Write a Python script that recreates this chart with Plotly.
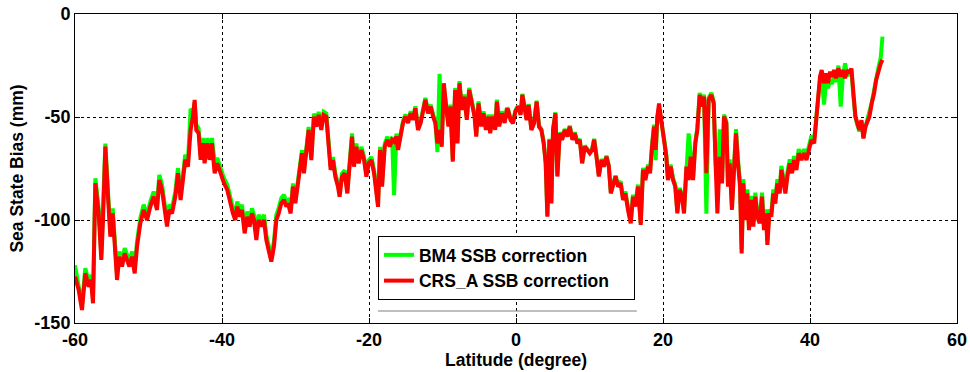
import plotly.graph_objects as go

# Along-track latitude (degrees)
lat = [
    -60.0, -59.5, -59.05, -58.6, -58.14, -57.82, -57.55, -57.23, -56.78, -56.42,
    -56.19, -55.87, -55.51, -55.19, -54.87, -54.6, -54.28, -53.97, -53.6, -53.24,
    -52.92, -52.6, -52.24, -51.88, -51.56, -51.11, -50.66, -50.2, -49.75, -49.3,
    -48.84, -48.53, -48.16, -47.8, -47.48, -47.17, -46.8, -46.35,
    -45.99, -45.63, -45.31, -45.0, -44.63, -44.27, -43.95, -43.72, -43.5, -43.18,
    -42.91, -42.6, -42.37, -42.0, -41.69, -41.37, -41.0, -40.64, -40.19, -39.73,
    -39.28, -38.83, -38.51, -38.19, -37.92, -37.6, -37.28, -36.92, -36.56, -36.24,
    -35.92, -35.65, -35.33, -35.02, -34.65, -34.29, -33.97, -33.66, -33.29, -32.93,
    -32.61, -32.29, -31.93, -31.57, -31.25,
    -31.02, -30.66, -30.34, -30.02, -29.66, -29.3, -29.12, -28.85, -28.53, -28.21,
    -27.85, -27.49, -27.17, -26.85, -26.49, -26.17, -25.81, -25.49, -25.22, -24.9,
    -24.58, -24.22, -24.0, -23.68, -23.31, -22.95, -22.63, -22.31, -22.04, -21.72,
    -21.4, -21.04, -20.67, -20.36, -20.04, -19.67, -19.31, -18.99, -18.77, -18.5,
    -18.22, -17.86, -17.5, -17.18, -16.86, -16.59, -16.27,
    -16.05, -15.69, -15.37, -15.05, -14.69, -14.33, -14.01, -13.69, -13.33, -12.97,
    -12.65, -12.33, -11.97, -11.6, -11.28, -10.97, -10.69, -10.4, -10.1, -9.82,
    -9.51, -9.19, -8.92, -8.6, -8.28, -7.96, -7.69, -7.37, -7.05, -6.69,
    -6.37, -6.0, -5.64, -5.41, -5.1, -4.74, -4.42, -4.1, -3.74, -3.51,
    -3.19, -2.83, -2.6, -2.28, -1.92, -1.55, -1.24,
    -1.09, -0.73, -0.41, -0.09, 0.27, 0.63, 0.86, 1.18, 1.45, 1.72,
    2.09, 2.45, 2.81, 3.13, 3.45, 3.77, 4.04, 4.27, 4.54, 4.81,
    5.04, 5.36, 5.63, 5.95, 6.27, 6.63, 6.99, 7.31, 7.68, 7.99,
    8.36, 8.68, 9.0, 9.36, 9.73, 10.04, 10.36, 10.63, 10.95, 11.27,
    11.63, 11.95, 12.31, 12.63, 12.9, 13.22, 13.54,
    13.88, 14.24, 14.56, 14.88, 15.24, 15.61, 15.92, 16.24, 16.6, 16.97,
    17.28, 17.6, 17.96, 18.24, 18.51, 18.78, 19.0, 19.23, 19.46, 19.77,
    20.13, 20.45, 20.67, 21.04, 21.36, 21.67, 21.95, 22.27, 22.59, 22.86,
    23.18, 23.49, 23.77, 24.09, 24.4, 24.67, 24.99, 25.31, 25.58, 25.9,
    26.21, 26.58, 26.9, 27.17, 27.4, 27.72, 28.03, 28.3, 28.62,
    28.84, 29.07, 29.38, 29.66, 29.93, 30.2, 30.48, 30.7, 30.93, 31.2,
    31.47, 31.7, 32.02, 32.29, 32.56, 32.83, 33.15, 33.47, 33.74, 34.01,
    34.2, 34.47, 34.74, 35.01, 35.28, 35.56, 35.88, 36.1, 36.38, 36.65,
    36.92, 37.24, 37.56, 37.83, 38.15, 38.47, 38.84, 39.2, 39.52, 39.84,
    40.2, 40.57, 40.88,
    41.1, 41.36, 41.59, 41.9, 42.18, 42.45, 42.72, 43.0, 43.27, 43.54,
    43.86, 44.18, 44.45, 44.77, 45.09, 45.36, 45.63, 45.9, 46.18, 46.45,
    46.72, 47.0, 47.27, 47.54, 47.81, 48.08, 48.4, 48.72, 49.0, 49.31,
    49.63, 49.86,
]

# BM4 sea state bias correction (mm)
bm4_ssb = [
    -122.0, -131.5, -141.2, -123.4, -129.9, -126.6, -137.9, -79.7, -94.3, -116.9,
    -97.5, -62.9, -86.2, -105.6, -94.3, -108.8, -126.6, -115.3, -120.1, -113.7,
    -117.7, -120.1, -115.3, -123.4, -110.4, -99.1, -92.6, -97.5, -91.0, -86.2,
    -92.6, -78.1, -82.9, -91.0, -100.7, -92.6, -94.3, -86.2,
    -74.8, -87.8, -76.4, -68.3, -71.6, -46.0, -48.0, -43.0, -53.8, -55.4,
    -68.3, -60.2, -70.0, -60.2, -68.3, -60.2, -72.0, -70.0, -74.8, -79.7,
    -82.9, -91.0, -94.3, -97.5, -91.0, -95.9, -92.6, -104.0, -95.9, -100.7,
    -94.3, -97.5, -107.2, -97.5, -100.7, -97.5, -107.2, -112.1, -117.7, -110.4,
    -97.5, -94.3, -89.4, -87.8, -91.0,
    -90.4, -95.3, -82.3, -90.4, -80.7, -69.4, -66.1, -75.8, -62.9, -54.8,
    -69.4, -48.3, -53.2, -47.5, -54.8, -47.5, -48.3, -61.2, -74.2, -69.4,
    -77.5, -82.3, -87.2, -77.5, -75.8, -85.6, -69.4, -58.0, -72.6, -62.9,
    -71.0, -64.5, -69.4, -77.5, -71.0, -69.4, -75.8, -85.6, -92.1, -64.5,
    -82.3, -62.9, -59.6, -62.9, -59.6, -88.0, -58.0,
    -65.0, -58.5, -51.9, -48.8, -51.9, -47.2, -50.4, -44.8, -55.3, -51.9,
    -45.6, -40.7, -47.2, -44.0, -48.8, -51.9, -67.0, -29.0, -60.0, -35.0,
    -44.0, -53.6, -44.0, -70.7, -35.9, -61.8, -32.6, -45.6, -39.1, -50.4,
    -35.9, -42.4, -48.8, -58.5, -42.4, -53.6, -47.2, -55.3, -48.8, -56.9,
    -48.8, -55.3, -41.6, -53.6, -47.2, -51.9, -45.6,
    -46.1, -51.0, -52.6, -46.9, -44.5, -48.5, -38.8, -44.5, -51.0, -43.7,
    -55.8, -52.6, -42.1, -54.2, -55.8, -62.3, -72.0, -97.9, -60.6, -91.5,
    -55.8, -47.7, -78.4, -57.4, -60.6, -55.8, -59.0, -54.2, -60.6, -57.4,
    -62.3, -60.6, -72.0, -63.9, -65.5, -67.1, -65.5, -60.6, -68.8, -78.4,
    -70.4, -73.6, -68.8, -73.6, -86.6, -81.7, -78.4,
    -82.8, -81.2, -89.3, -86.1, -94.1, -100.6, -87.7, -92.5, -82.8, -101.4,
    -74.7, -79.6, -73.1, -76.3, -63.4, -53.7, -71.0, -50.0, -46.0, -52.1,
    -60.1, -68.3, -79.6, -73.1, -79.6, -82.8, -95.8, -84.4, -87.7, -95.8,
    -73.1, -58.0, -68.3, -79.6, -61.8, -55.3, -38.3, -44.0, -39.1, -97.0,
    -40.7, -38.3, -42.4, -73.1, -80.0, -56.0, -81.2, -48.8, -52.1,
    -81.8, -70.5, -93.1, -73.7, -55.9, -70.5, -81.8, -114.2, -80.2, -98.0,
    -85.1, -102.9, -88.3, -101.2, -86.7, -96.4, -99.6, -86.7, -102.9, -94.8,
    -110.1, -94.8, -96.4, -85.1, -90.0, -80.2, -85.1, -73.7, -78.6, -85.1,
    -77.0, -70.5, -75.3, -68.9, -73.7, -65.6, -68.9, -65.6, -68.9, -64.0,
    -59.1, -60.8, -49.5,
    -38.0, -32.0, -30.0, -44.0, -33.0, -36.0, -32.0, -34.0, -30.0, -33.0,
    -25.0, -45.0, -31.0, -24.0, -30.0, -28.0, -27.0, -40.0, -50.0, -54.0,
    -57.0, -52.0, -60.0, -55.0, -51.0, -49.0, -43.0, -37.0, -31.0, -26.0,
    -21.0, -11.0,
]

# CRS_A sea state bias correction (mm)
crs_a_ssb = [
    -127.5, -134.0, -143.7, -125.9, -132.4, -129.1, -140.4, -82.2, -96.8, -119.4,
    -100.0, -64.4, -88.7, -108.1, -96.8, -111.3, -129.1, -117.8, -122.6, -116.2,
    -120.2, -122.6, -117.8, -125.9, -112.9, -101.6, -95.1, -100.0, -93.5, -88.7,
    -95.1, -80.6, -85.4, -93.5, -103.2, -95.1, -96.8, -88.7,
    -77.3, -90.3, -78.9, -70.8, -74.1, -56.3, -49.8, -41.7, -56.3, -57.9,
    -70.8, -62.7, -72.5, -62.7, -70.8, -62.7, -77.3, -72.5, -77.3, -82.2,
    -85.4, -93.5, -96.8, -100.0, -93.5, -98.4, -95.1, -106.5, -98.4, -103.2,
    -96.8, -100.0, -109.7, -100.0, -103.2, -100.0, -109.7, -114.6, -120.2, -112.9,
    -100.0, -96.8, -91.9, -90.3, -93.5,
    -91.9, -96.8, -83.8, -91.9, -82.2, -70.9, -67.6, -77.3, -64.4, -56.3,
    -70.9, -49.8, -54.7, -49.0, -56.3, -49.0, -49.8, -62.7, -75.7, -70.9,
    -79.0, -83.8, -88.7, -79.0, -77.3, -87.1, -70.9, -59.5, -74.1, -64.4,
    -72.5, -66.0, -70.9, -79.0, -72.5, -70.9, -77.3, -87.1, -93.6, -66.0,
    -83.8, -64.4, -61.1, -64.4, -61.1, -62.0, -59.5,
    -66.0, -59.5, -52.9, -49.8, -52.9, -48.2, -51.4, -45.8, -56.3, -52.9,
    -46.6, -41.7, -48.2, -45.0, -49.8, -52.9, -62.8, -56.3, -64.4, -33.6,
    -45.0, -54.6, -45.0, -71.7, -36.9, -62.8, -33.6, -46.6, -40.1, -51.4,
    -36.9, -43.4, -49.8, -59.5, -43.4, -54.6, -48.2, -56.3, -49.8, -57.9,
    -49.8, -56.3, -42.6, -54.6, -48.2, -52.9, -46.6,
    -46.6, -51.5, -53.1, -47.4, -45.0, -49.0, -39.3, -45.0, -51.5, -44.2,
    -56.3, -53.1, -42.6, -54.7, -56.3, -62.8, -72.5, -98.4, -61.1, -92.0,
    -56.3, -48.2, -78.9, -57.9, -61.1, -56.3, -59.5, -54.7, -61.1, -57.9,
    -62.8, -61.1, -72.5, -64.4, -66.0, -67.6, -66.0, -61.1, -69.3, -78.9,
    -70.9, -74.1, -69.3, -74.1, -87.1, -82.2, -78.9,
    -83.8, -82.2, -90.3, -87.1, -95.1, -101.6, -88.7, -93.5, -83.8, -102.4,
    -75.7, -80.6, -74.1, -77.3, -64.4, -54.7, -66.0, -49.8, -43.4, -53.1,
    -61.1, -69.3, -80.6, -74.1, -80.6, -83.8, -96.8, -85.4, -88.7, -96.8,
    -74.1, -80.6, -69.3, -80.6, -62.8, -56.3, -39.3, -45.0, -40.1, -77.3,
    -41.7, -39.3, -43.4, -74.1, -96.8, -69.3, -82.2, -49.8, -53.1,
    -83.8, -72.5, -95.1, -75.7, -57.9, -72.5, -83.8, -116.2, -82.2, -100.0,
    -87.1, -104.9, -90.3, -103.2, -88.7, -98.4, -101.6, -88.7, -104.9, -96.8,
    -112.1, -96.8, -98.4, -87.1, -92.0, -82.2, -87.1, -75.7, -80.6, -87.1,
    -79.0, -72.5, -77.3, -70.9, -75.7, -67.6, -70.9, -67.6, -70.9, -66.0,
    -61.1, -62.8, -51.5,
    -40.0, -30.4, -27.2, -33.6, -28.8, -33.6, -28.0, -30.4, -27.2, -31.2,
    -26.4, -30.4, -27.2, -31.2, -27.2, -28.8, -26.4, -40.1, -49.8, -53.1,
    -56.3, -51.5, -60.4, -54.7, -51.5, -49.8, -43.4, -38.5, -32.0, -27.2,
    -23.9, -22.3,
]

assert len(lat) == len(bm4_ssb) == len(crs_a_ssb)

# Axis ticks (labels use a plain hyphen for the minus sign)
x_ticks = [-60, -40, -20, 0, 20, 40, 60]
x_tick_labels = ["-60", "-40", "-20", "0", "20", "40", "60"]
y_ticks = [-150, -100, -50, 0]
y_tick_labels = ["-150", "-100", "-50", "0"]

FONT = "Liberation Sans, Arial, Helvetica, sans-serif"
tick_font = dict(family=FONT, size=18, color="#000000", weight="bold")
label_font = dict(family=FONT, size=17.5, color="#000000", weight="bold")

fig = go.Figure()
fig.add_trace(go.Scatter(x=lat, y=bm4_ssb, mode="lines", name="BM4 SSB correction",
                         line=dict(color="#00ff00", width=4)))
fig.add_trace(go.Scatter(x=lat, y=crs_a_ssb, mode="lines",
                         name="CRS_A SSB correction\u00a0\u00a0\u00a0\u00a0",
                         line=dict(color="#ff0000", width=4)))

axis_common = dict(
    showgrid=True, gridcolor="#000000", griddash="dot", gridwidth=1,
    showline=True, linecolor="#000000", linewidth=1, mirror="ticks",
    ticks="inside", ticklen=5, tickcolor="#000000", zeroline=False,
    tickfont=tick_font,
)

fig.update_xaxes(range=[-60, 60], tickvals=x_ticks, ticktext=x_tick_labels,
                 title=dict(text="Latitude (degree)", standoff=4, font=label_font),
                 **axis_common)
fig.update_yaxes(range=[-150, 0], tickvals=y_ticks, ticktext=y_tick_labels,
                 title=dict(text="Sea State Bias (mm)", standoff=6, font=label_font),
                 **axis_common)

fig.update_layout(
    width=970, height=372,
    margin=dict(l=75, r=13, t=14, b=49, autoexpand=False),
    plot_bgcolor="#ffffff", paper_bgcolor="#ffffff",
    showlegend=True,
    legend=dict(x=0.3435, y=0.2816, xanchor="left", yanchor="top",
                bgcolor="#ffffff", bordercolor="#000000", borderwidth=1,
                font=label_font, itemwidth=30, tracegroupgap=0),
    shapes=[dict(type="line", xref="paper", yref="paper",
                 x0=0.3435, x1=0.637, y0=0.0388, y1=0.0388,
                 line=dict(color="#808080", width=1))],
)

fig.write_html("out.html")
